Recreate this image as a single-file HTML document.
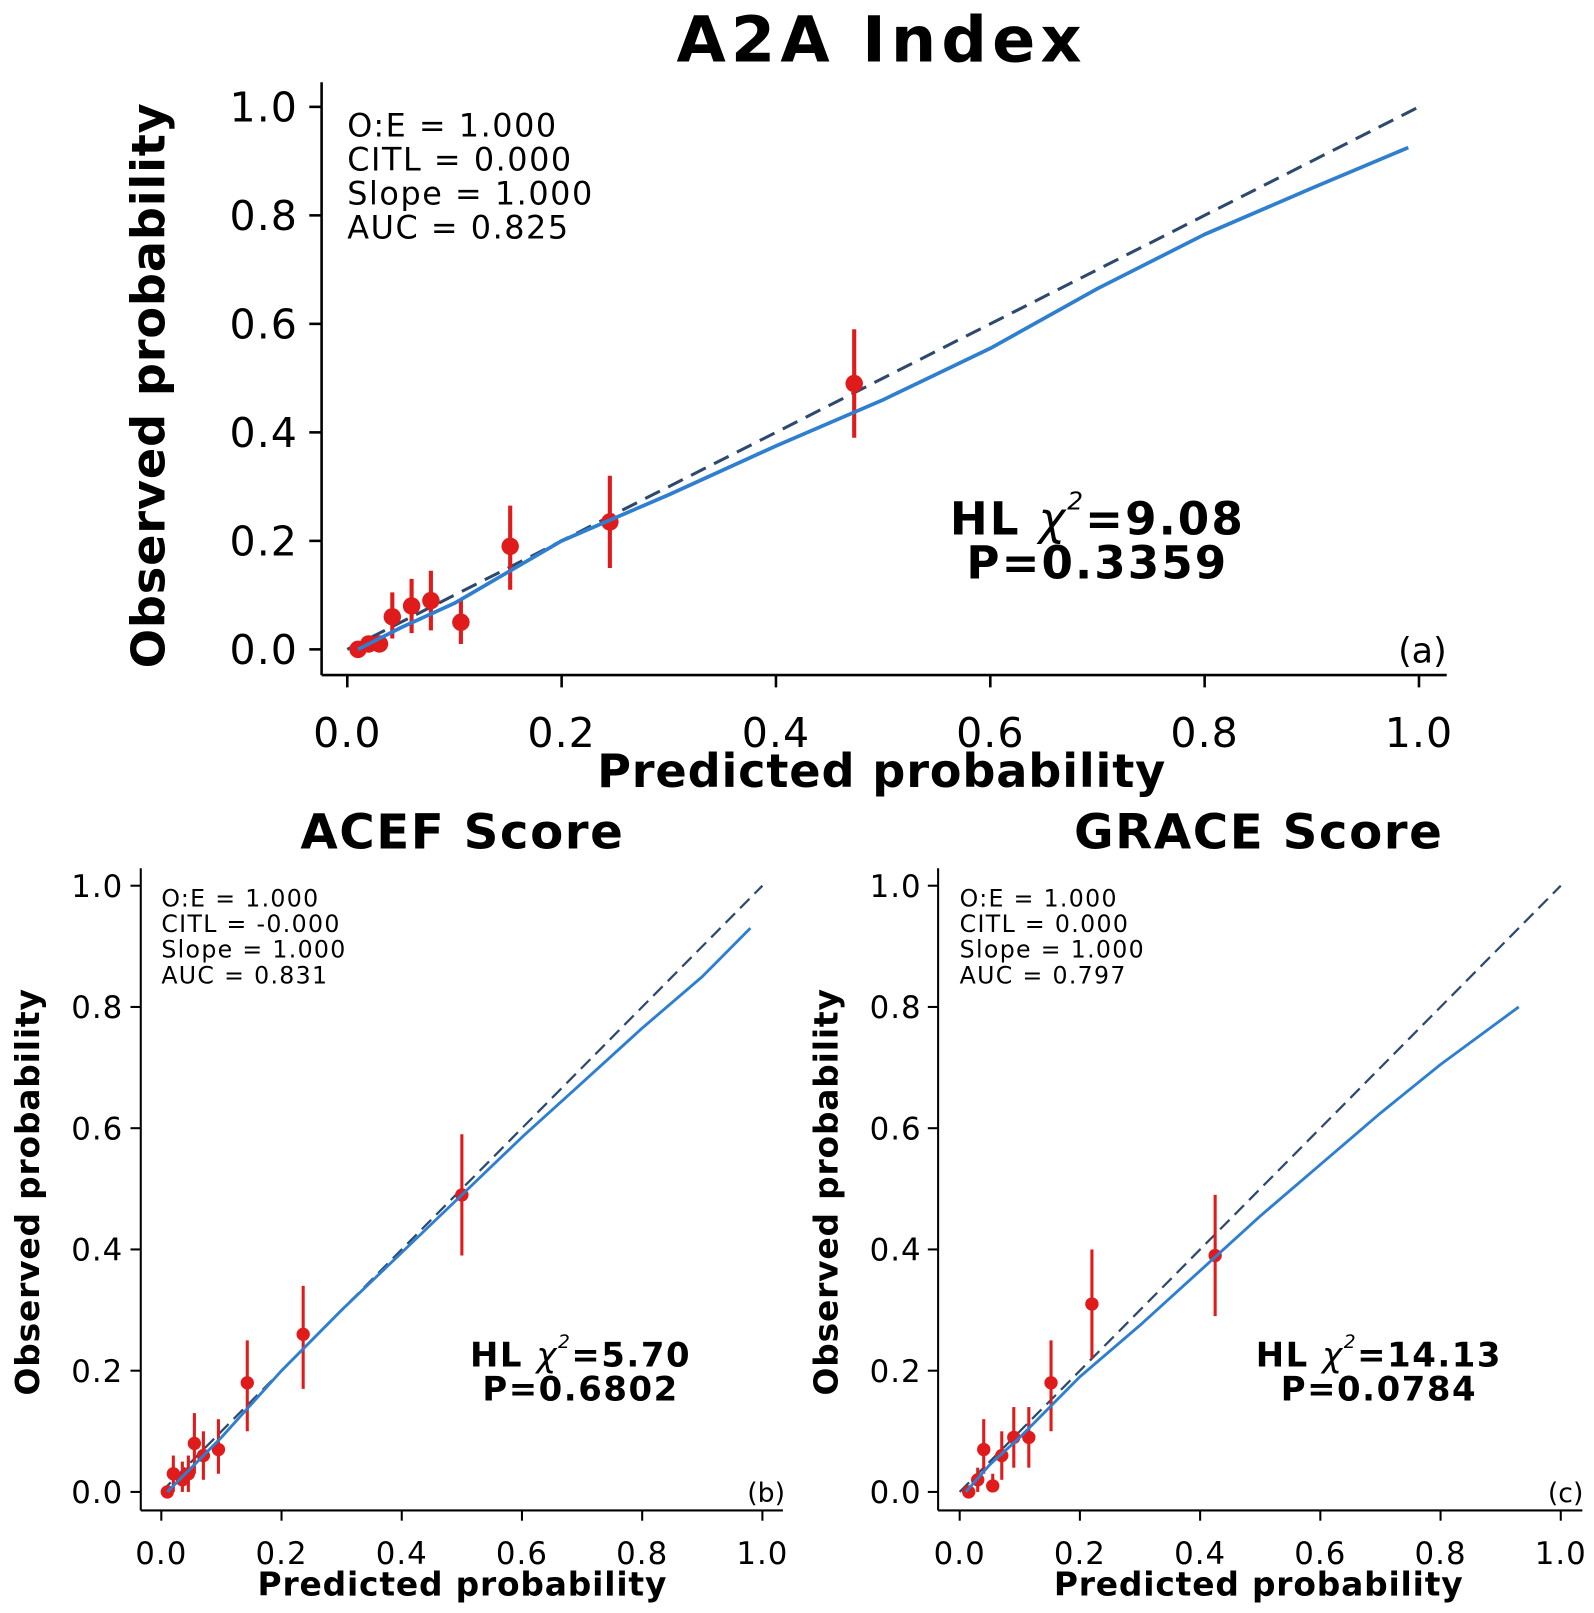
<!DOCTYPE html>
<html><head><meta charset="utf-8">
<style>
html,body{margin:0;padding:0;background:#fff;}
svg{display:block;font-family:"DejaVu Sans","Liberation Sans",sans-serif;}
</style></head>
<body>
<svg id="chart" width="1594" height="1613" viewBox="0 0 1594 1613" xmlns="http://www.w3.org/2000/svg">
<rect width="1594" height="1613" fill="#fff"/>
<g id="root" transform="scale(1.0275)"></g>
</svg>
<script>
// ---- data: panel A (A2A Index)
const aPred = [0.01,0.02,0.03,0.042,0.06,0.078,0.106,0.152,0.245,0.473];
const aObs  = [0.0,0.01,0.01,0.06,0.08,0.09,0.05,0.19,0.235,0.49];
const aLo   = [0.0,0.0,0.0,0.02,0.03,0.035,0.01,0.11,0.15,0.39];
const aHi   = [0.01,0.02,0.02,0.105,0.13,0.145,0.09,0.265,0.32,0.59];
const aCurveX = [0.01,0.05,0.1,0.2,0.3,0.4,0.5,0.6,0.7,0.8,0.9,0.99];
const aCurveY = [0.0,0.04,0.085,0.2,0.285,0.375,0.46,0.555,0.665,0.765,0.85,0.925];
const aStats = ["O:E = 1.000","CITL = 0.000","Slope = 1.000","AUC = 0.825"];
// ---- data: panel B (ACEF Score)
const bPred = [0.01,0.02,0.035,0.045,0.055,0.07,0.095,0.143,0.236,0.5];
const bObs  = [0.0,0.03,0.02,0.03,0.08,0.06,0.07,0.18,0.26,0.49];
const bLo   = [0.0,0.0,0.0,0.0,0.03,0.02,0.03,0.1,0.17,0.39];
const bHi   = [0.01,0.06,0.05,0.06,0.13,0.1,0.12,0.25,0.34,0.59];
const bCurveX = [0.01,0.05,0.1,0.2,0.3,0.4,0.5,0.6,0.7,0.8,0.9,0.98];
const bCurveY = [0.0,0.04,0.09,0.2,0.3,0.395,0.49,0.585,0.675,0.765,0.85,0.93];
const bStats = ["O:E = 1.000","CITL = -0.000","Slope = 1.000","AUC = 0.831"];
// ---- data: panel C (GRACE Score)
const cPred = [0.015,0.03,0.04,0.055,0.07,0.09,0.115,0.152,0.22,0.425];
const cObs  = [0.0,0.02,0.07,0.01,0.06,0.09,0.09,0.18,0.31,0.39];
const cLo   = [0.0,0.0,0.03,0.0,0.02,0.04,0.04,0.1,0.22,0.29];
const cHi   = [0.01,0.04,0.12,0.03,0.1,0.14,0.14,0.25,0.4,0.49];
const cCurveX = [0.01,0.05,0.1,0.2,0.3,0.4,0.5,0.6,0.7,0.8,0.93];
const cCurveY = [0.0,0.045,0.09,0.19,0.275,0.365,0.455,0.54,0.625,0.705,0.8];
const cStats = ["O:E = 1.000","CITL = 0.000","Slope = 1.000","AUC = 0.797"];
const ticks = [0,0.2,0.4,0.6,0.8,1.0];
const tickLabels = ["0.0","0.2","0.4","0.6","0.8","1.0"];

const NS="http://www.w3.org/2000/svg";
const root=document.getElementById('root');
function mk(tag,attrs,parent){const e=document.createElementNS(NS,tag);for(const k in attrs)e.setAttribute(k,attrs[k]);(parent||root).appendChild(e);return e;}
function txt(s,attrs,parent){const e=mk('text',attrs,parent);e.textContent=s;return e;}

function panel(cfg){
  const g=mk('g',{});
  
  
  const sx=v=>cfg.x0+v*(cfg.x1-cfg.x0);
  const sy=v=>cfg.y0-v*(cfg.y0-cfg.y1);
  const t=txt(cfg.title,{x:cfg.titleX,y:cfg.titleY,'text-anchor':'middle','font-size':cfg.titleSize,'font-weight':'bold',fill:'#000','letter-spacing':cfg.titleLs},g);
  
  
  const ya=mk('line',{x1:cfg.axX,y1:cfg.axTop,x2:cfg.axX,y2:cfg.axY,stroke:'#000','stroke-width':cfg.sw},g);
  
  
  const xa=mk('line',{x1:cfg.axX,y1:cfg.axY,x2:cfg.axRight,y2:cfg.axY,stroke:'#000','stroke-width':cfg.sw},g);
  
  
  ticks.forEach((v,i)=>{
    mk('line',{x1:sx(v),y1:cfg.axY,x2:sx(v),y2:cfg.axY+cfg.tl,stroke:'#000','stroke-width':cfg.sw},g);
    const xl=txt(tickLabels[i],{x:sx(v),y:cfg.xlY,'text-anchor':'middle','font-size':cfg.tickSize,fill:'#000','letter-spacing':1},g);
    
    
    mk('line',{x1:cfg.axX-cfg.tl,y1:sy(v),x2:cfg.axX,y2:sy(v),stroke:'#000','stroke-width':cfg.sw},g);
    const yl=txt(tickLabels[i],{x:cfg.ylX,y:sy(v)+cfg.tickSize*0.36,'text-anchor':'end','font-size':cfg.tickSize,fill:'#000','letter-spacing':1},g);
    
    
  });
  const xt=txt('Predicted probability',{x:cfg.xtX,y:cfg.xtY,'text-anchor':'middle','font-size':cfg.axTitleSize,'font-weight':'bold',fill:'#000','letter-spacing':0.8},g);
  
  
  const yt=txt('Observed probability',{x:0,y:0,'text-anchor':'middle','font-size':cfg.axTitleSize,'font-weight':'bold',fill:'#000','letter-spacing':0.8,transform:`translate(${cfg.ytX},${cfg.ytY}) rotate(-90)`},g);
  
  
  const d=mk('line',{x1:sx(0),y1:sy(0),x2:sx(1),y2:sy(1),stroke:'#2d4a6e','stroke-width':cfg.lw,'stroke-dasharray':cfg.dash},g);
  
  
  cfg.pred.forEach((p,i)=>{
    const e=mk('line',{x1:sx(p),y1:sy(cfg.lo[i]),x2:sx(p),y2:sy(cfg.hi[i]),stroke:'#e01b1b','stroke-width':cfg.ew},g);
    
    
  });
  cfg.pred.forEach((p,i)=>{
    const c=mk('circle',{cx:sx(p),cy:sy(cfg.obs[i]),r:cfg.r,fill:'#e01b1b'},g);
    
    
  });
  const pts=cfg.cx.map((v,i)=>sx(v).toFixed(1)+','+sy(cfg.cy[i]).toFixed(1)).join(' ');
  const pl=mk('polyline',{points:pts,fill:'none',stroke:'#2f7fd1','stroke-width':cfg.lw+0.6,'stroke-linejoin':'round'},g);
  
  
  cfg.stats.forEach((s,i)=>{
    const st=txt(s,{x:cfg.stX,y:cfg.stY+i*cfg.stDy,'font-size':cfg.stSize,fill:'#000','letter-spacing':cfg.stLs},g);
    
    
  });
  const hl=txt('',{x:cfg.hlX,y:cfg.hlY,'text-anchor':'middle','font-size':cfg.hlSize,'font-weight':'bold',fill:'#000','letter-spacing':cfg.hlLs},g);
  
  
  const a=mk('tspan',{},hl);a.textContent='HL ';
  const b=mk('tspan',{'font-weight':'normal','font-style':'italic'},hl);b.textContent='χ';
  const c=mk('tspan',{'font-weight':'normal','font-style':'italic','font-size':cfg.hlSize*0.55,dy:-cfg.hlSize*0.55},hl);c.textContent='2';
  const dd=mk('tspan',{dy:cfg.hlSize*0.55},hl);dd.textContent=cfg.hl;
  const pv=txt(cfg.p,{x:cfg.hlX,y:cfg.hlY+cfg.hlDy,'text-anchor':'middle','font-size':cfg.hlSize,'font-weight':'bold',fill:'#000','letter-spacing':cfg.hlLs},g);
  
  
  const pl2=txt(cfg.letter,{x:cfg.ltX,y:cfg.ltY,'text-anchor':'end','font-size':cfg.ltSize,fill:'#000'},g);
  
  
}

panel({name:'panel-a2a',title:'A2A Index',titleX:858,titleY:60,titleSize:62,titleLs:5,
  x0:338,x1:1381,y0:632,y1:104,axX:313,axTop:80,axY:657,axRight:1408,tl:12,sw:2.5,
  xlY:727,ylX:290,tickSize:40,xtX:858,xtY:766,ytX:160,ytY:375,axTitleSize:45,
  lw:3,dash:'16,9',ew:4,r:8.5,pred:aPred,obs:aObs,lo:aLo,hi:aHi,cx:aCurveX,cy:aCurveY,
  stats:aStats,stX:338,stY:133,stDy:33,stSize:31,stLs:1.5,hl:'=9.08',p:'P=0.3359',hlX:1068,hlY:520,hlDy:43,hlSize:44,hlLs:2,
  letter:'(a)',ltX:1408,ltY:645,ltSize:34});
panel({name:'panel-acef',title:'ACEF Score',titleX:450,titleY:826,titleSize:47,titleLs:1.5,
  x0:157,x1:742,y0:1452,y1:862,axX:137,axTop:845,axY:1470,axRight:762,tl:10,sw:2,
  xlY:1522,ylX:120,tickSize:30,xtX:450,xtY:1553,ytX:38,ytY:1160,axTitleSize:32,
  lw:2.2,dash:'13,7',ew:3,r:6.5,pred:bPred,obs:bObs,lo:bLo,hi:bHi,cx:bCurveX,cy:bCurveY,
  stats:bStats,stX:157,stY:882,stDy:25,stSize:23,stLs:1.3,hl:'=5.70',p:'P=0.6802',hlX:565,hlY:1330,hlDy:33,hlSize:33,hlLs:1.5,
  letter:'(b)',ltX:764,ltY:1462,ltSize:26});
panel({name:'panel-grace',title:'GRACE Score',titleX:1225,titleY:826,titleSize:47,titleLs:1.5,
  x0:934,x1:1519,y0:1452,y1:862,axX:913,axTop:845,axY:1470,axRight:1540,tl:10,sw:2,
  xlY:1522,ylX:897,tickSize:30,xtX:1225,xtY:1553,ytX:815,ytY:1160,axTitleSize:32,
  lw:2.2,dash:'13,7',ew:3,r:6.5,pred:cPred,obs:cObs,lo:cLo,hi:cHi,cx:cCurveX,cy:cCurveY,
  stats:cStats,stX:934,stY:882,stDy:25,stSize:23,stLs:1.3,hl:'=14.13',p:'P=0.0784',hlX:1342,hlY:1330,hlDy:33,hlSize:33,hlLs:1.5,
  letter:'(c)',ltX:1541,ltY:1462,ltSize:26});
</script>
</body></html>
